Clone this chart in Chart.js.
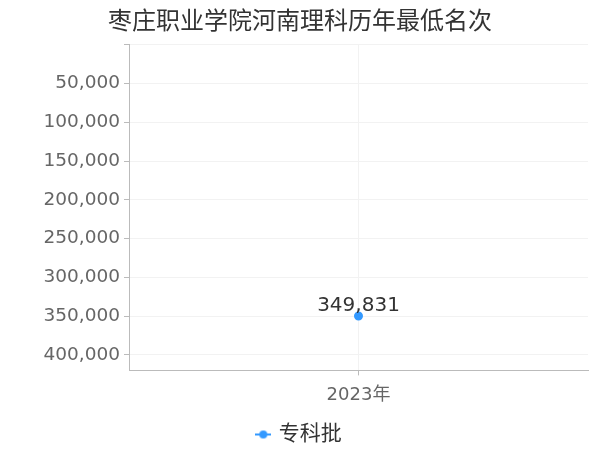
<!DOCTYPE html>
<html>
<head>
<meta charset="utf-8">
<script src="https://cdn.jsdelivr.net/npm/chart.js@4"></script>
<style>
  html, body { margin: 0; padding: 0; background: #fff; }
  #wrap { width: 600px; height: 450px; }
</style>
</head>
<body>
<div id="wrap"><canvas id="rankChart"></canvas></div>
<script>
const titleText = '枣庄职业学院河南理科历年最低名次';
const years = ['2023年'];
const seriesName = '专科批';
const minRank = [349831];
const yTicks = [0, 50000, 100000, 150000, 200000, 250000, 300000, 350000, 400000];

const cjk = '"DejaVu Sans", "Noto Sans CJK SC", sans-serif';
const blue = '#3399ff';

function fmt(n) {
    return String(Math.round(n)).replace(/\B(?=(\d{3})+(?!\d))/g, ',');
}

// legend marker: short line with a dot
const marker = document.createElement('canvas');
marker.width = 16; marker.height = 10;
(function() {
    const c = marker.getContext('2d');
    c.strokeStyle = blue; c.lineWidth = 2;
    c.beginPath(); c.moveTo(0, 5); c.lineTo(16, 5); c.stroke();
    c.fillStyle = blue;
    c.beginPath(); c.arc(8, 5, 4, 0, Math.PI * 2); c.fill();
})();

// draw the value above each point
const valueLabels = {
    id: 'valueLabels',
    afterDatasetsDraw(chart) {
        const ctx = chart.ctx;
        chart.data.datasets.forEach((ds, i) => {
            chart.getDatasetMeta(i).data.forEach((pt, j) => {
                ctx.save();
                ctx.font = '20px ' + cjk;
                ctx.fillStyle = '#333';
                ctx.textAlign = 'center';
                ctx.textBaseline = 'bottom';
                ctx.fillText(fmt(ds.data[j]), pt.x, pt.y);
                ctx.restore();
            });
        });
    }
};

new Chart(document.getElementById('rankChart'), {
    type: 'line',
    data: {
        labels: years,
        datasets: [{
            label: seriesName,
            data: minRank,
            borderColor: blue,
            backgroundColor: blue,
            borderWidth: 2,
            pointRadius: 3.5,
            pointStyle: 'circle'
        }]
    },
    options: {
        responsive: true,
        maintainAspectRatio: false,
        animation: false,
        layout: { padding: { left: 12, right: 12, top: 4, bottom: -5 } },
        plugins: {
            title: {
                display: true,
                text: titleText,
                color: '#333',
                font: { family: cjk, size: 24, weight: 'normal' },
                padding: { top: 4, bottom: 8 }
            },
            legend: {
                position: 'bottom',
                labels: {
                    usePointStyle: true,
                    pointStyleWidth: 10,
                    color: '#333',
                    font: { family: cjk, size: 21 },
                    padding: 9,
                    generateLabels: chart => chart.data.datasets.map((ds, i) => ({
                        text: ds.label,
                        pointStyle: marker,
                        fontColor: '#333',
                        datasetIndex: i
                    }))
                }
            },
            tooltip: { enabled: false }
        },
        scales: {
            x: {
                offset: true,
                border: { color: '#bbb' },
                grid: { color: '#f2f2f2', offset: false, tickColor: '#bbb', tickLength: 5 },
                ticks: { color: '#666', font: { family: cjk, size: 18 }, padding: 9 }
            },
            y: {
                reverse: true,
                min: 0,
                max: 420000,
                border: { color: '#bbb' },
                grid: { color: '#f2f2f2', tickColor: '#bbb', tickLength: 5 },
                afterBuildTicks: scale => {
                    scale.ticks = yTicks.map(v => ({ value: v }));
                },
                afterFit: scale => { scale.width = 117; },
                ticks: {
                    autoSkip: false,
                    color: '#666',
                    font: { family: cjk, size: 18.5 },
                    padding: 4,
                    callback: value => value === 0 ? '' : fmt(value)
                }
            }
        }
    },
    plugins: [valueLabels]
});
</script>
</body>
</html>
